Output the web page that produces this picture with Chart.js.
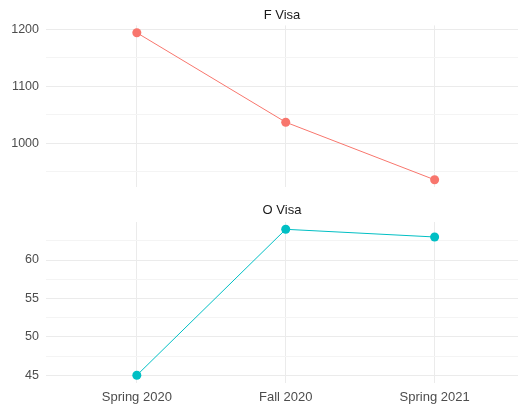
<!DOCTYPE html>
<html>
<head>
<meta charset="utf-8">
<script src="https://cdn.jsdelivr.net/npm/chart.js@4"></script>
<style>
  html, body { margin: 0; padding: 0; background: #fff; overflow: hidden; }
  #wrap { position: relative; width: 518px; height: 408px; }
  #c1 { position: absolute; left: 0; top: 0; }
  #c2 { position: absolute; left: 0; top: 190px; }
</style>
</head>
<body>
<div id="wrap">
  <canvas id="c1" width="518" height="195"></canvas>
  <canvas id="c2" width="518" height="218"></canvas>
</div>
<script>
const categories = ["Spring 2020", "Fall 2020", "Spring 2021"];
const fVisa = [1194, 1037, 936];
const oVisa = [45, 64, 63];
const fTicks = [1000, 1100, 1200];
const fMinor = [950, 1050, 1150];
const oTicks = [45, 50, 55, 60];
const oMinor = [47.5, 52.5, 57.5, 62.5];

const FONT = "'Liberation Sans', Arial, sans-serif";
const MAJOR = '#EBEBEB';
const MINOR = '#F4F4F4';

function expand(vals) {
  const lo = Math.min(...vals), hi = Math.max(...vals);
  const pad = (hi - lo) * 0.05;
  return [lo - pad, hi + pad];
}

function makeChart(id, title, values, color, ticks, minor, showX, xHeight, titlePad) {
  const [ymin, ymax] = expand(values);
  const all = [...ticks, ...minor].sort((a, b) => a - b);
  return new Chart(document.getElementById(id), {
    type: 'line',
    data: {
      datasets: [{
        data: values.map((v, i) => ({ x: i, y: v })),
        borderColor: color,
        backgroundColor: color,
        borderWidth: 1,
        pointRadius: 4.5,
        pointHoverRadius: 4.5,
        pointBorderWidth: 0,
        tension: 0,
        clip: false
      }]
    },
    options: {
      responsive: false,
      animation: false,
      events: [],
      layout: { autoPadding: false, padding: { left: 0, right: 0, top: 0, bottom: 0 } },
      plugins: {
        legend: { display: false },
        tooltip: { enabled: false },
        title: {
          display: true,
          fullSize: false,
          text: title,
          color: '#1A1A1A',
          font: { family: FONT, size: 13, weight: 'normal' },
          padding: titlePad
        }
      },
      scales: {
        x: {
          type: 'linear',
          min: -0.61,
          max: 2.56,
          afterBuildTicks: s => { s.ticks = categories.map((c, i) => ({ value: i })); },
          afterFit: s => { s.height = xHeight; s.paddingLeft = 0; s.paddingRight = 0; },
          ticks: {
            display: showX,
            autoSkip: false,
            maxRotation: 0,
            padding: 7,
            color: '#4D4D4D',
            font: { family: FONT, size: 13 },
            callback: v => categories[v]
          },
          grid: { color: MAJOR, lineWidth: 1, drawTicks: false },
          border: { display: false }
        },
        y: {
          min: ymin,
          max: ymax,
          afterBuildTicks: s => { s.ticks = all.map(v => ({ value: v })); },
          afterFit: s => { s.width = 46; s.paddingTop = 0; s.paddingBottom = 0; },
          ticks: {
            autoSkip: false,
            padding: 7,
            color: '#4D4D4D',
            font: { family: FONT, size: 12.5 },
            callback: v => ticks.includes(v) ? String(v) : ''
          },
          grid: {
            drawTicks: false,
            color: c => ticks.includes(c.tick && c.tick.value) ? MAJOR : MINOR,
            lineWidth: 1
          },
          border: { display: false }
        }
      }
    }
  });
}

makeChart('c1', 'F Visa', fVisa, '#F8766D', fTicks, fMinor, false, 7.9, { top: 7.2, bottom: 2.6 });
makeChart('c2', 'O Visa', oVisa, '#00BFC4', oTicks, oMinor, true, 25.4, { top: 12.7, bottom: 3.7 });
</script>
</body>
</html>
